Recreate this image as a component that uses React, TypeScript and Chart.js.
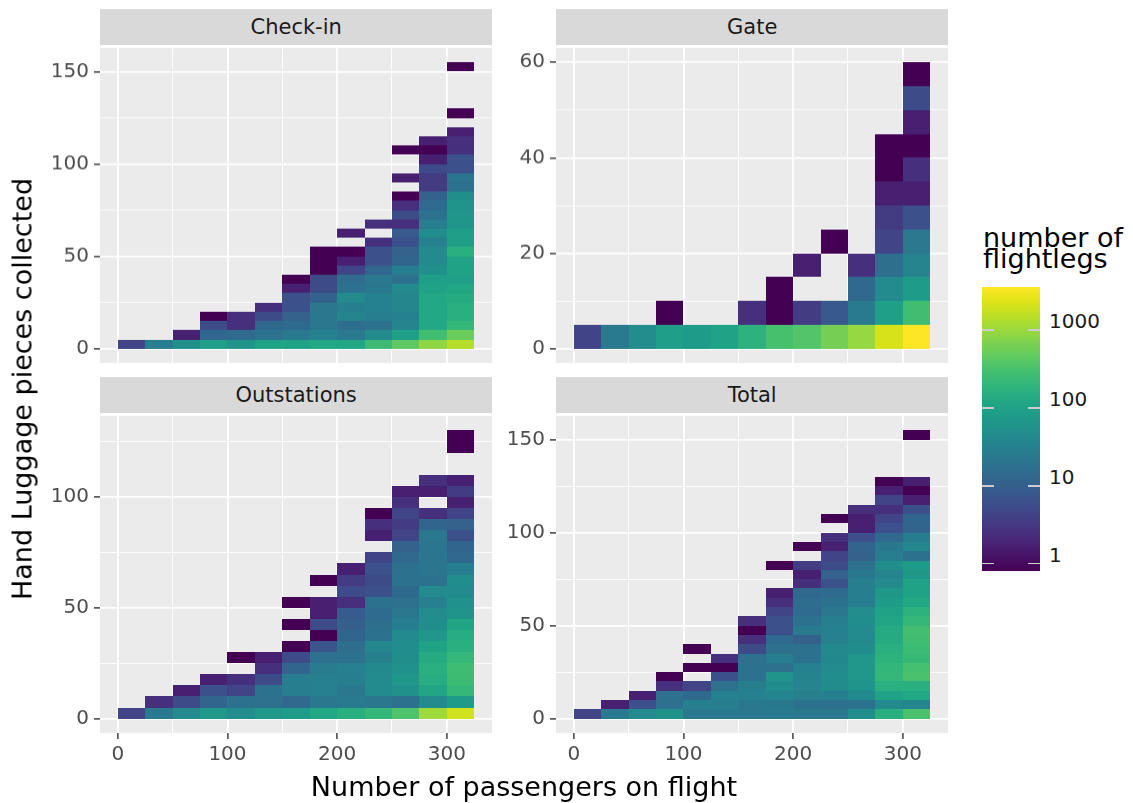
import React, { useEffect, useRef } from "react";
import { Chart, registerables } from "chart.js";
Chart.register(...registerables);

const FONT = "'DejaVu Sans', 'Liberation Sans', sans-serif";

// ---------------- DATA ----------------
// 2D bins: x = passengers (bin width 25), y = pieces (bin width 5)
const X_BIN = 25;
const Y_BIN = 5;
const xMajorTicks = [0, 100, 200, 300];
const xMinorTicks = [50, 150, 250];
const legendBreaks = [1, 10, 100, 1000];
const panelTitles = ["Check-in", "Gate", "Outstations", "Total"];

// each row = one y bin (0-5, 5-10, ... upward), each entry = x bin (0-25 ... 300-325)
const checkinCounts = [
  [5, 29, 52, 85, 60, 100, 98, 120, 118, 235, 400, 760, 1200],
  [0, 0, 2, 14, 16, 20, 26, 33, 26, 43, 85, 250, 470],
  [0, 0, 0, 6, 3, 15, 15, 24, 17, 19, 36, 120, 200],
  [0, 0, 0, 1, 3, 6, 12, 24, 36, 30, 33, 120, 150],
  [0, 0, 0, 0, 0, 3, 7, 24, 31, 33, 38, 120, 150],
  [0, 0, 0, 0, 0, 0, 7, 12, 43, 33, 38, 120, 130],
  [0, 0, 0, 0, 0, 0, 2, 6, 20, 24, 43, 100, 115],
  [0, 0, 0, 0, 0, 0, 1, 6, 17, 25, 20, 90, 85],
  [0, 0, 0, 0, 0, 0, 0, 1, 5, 14, 30, 52, 100],
  [0, 0, 0, 0, 0, 0, 0, 1, 2, 7, 13, 45, 100],
  [0, 0, 0, 0, 0, 0, 0, 1, 1, 7, 12, 45, 150],
  [0, 0, 0, 0, 0, 0, 0, 0, 0, 3, 7, 32, 85],
  [0, 0, 0, 0, 0, 0, 0, 0, 2, 0, 9, 48, 85],
  [0, 0, 0, 0, 0, 0, 0, 0, 0, 3, 3, 30, 65],
  [0, 0, 0, 0, 0, 0, 0, 0, 0, 0, 6, 20, 65],
  [0, 0, 0, 0, 0, 0, 0, 0, 0, 0, 3, 16, 60],
  [0, 0, 0, 0, 0, 0, 0, 0, 0, 0, 1, 12, 50],
  [0, 0, 0, 0, 0, 0, 0, 0, 0, 0, 0, 4, 19],
  [0, 0, 0, 0, 0, 0, 0, 0, 0, 0, 2, 4, 22],
  [0, 0, 0, 0, 0, 0, 0, 0, 0, 0, 0, 6, 7],
  [0, 0, 0, 0, 0, 0, 0, 0, 0, 0, 0, 2, 7],
  [0, 0, 0, 0, 0, 0, 0, 0, 0, 0, 1, 1, 3],
  [0, 0, 0, 0, 0, 0, 0, 0, 0, 0, 0, 2, 3],
  [0, 0, 0, 0, 0, 0, 0, 0, 0, 0, 0, 0, 2],
  [0, 0, 0, 0, 0, 0, 0, 0, 0, 0, 0, 0, 0],
  [0, 0, 0, 0, 0, 0, 0, 0, 0, 0, 0, 0, 1],
  [0, 0, 0, 0, 0, 0, 0, 0, 0, 0, 0, 0, 0],
  [0, 0, 0, 0, 0, 0, 0, 0, 0, 0, 0, 0, 0],
  [0, 0, 0, 0, 0, 0, 0, 0, 0, 0, 0, 0, 0],
  [0, 0, 0, 0, 0, 0, 0, 0, 0, 0, 0, 0, 0],
  [0, 0, 0, 0, 0, 0, 0, 0, 0, 0, 0, 0, 1],
];

const gateCounts = [
  [5, 26, 46, 85, 80, 100, 170, 280, 330, 550, 820, 1800, 2925],
  [0, 0, 0, 1, 0, 0, 3, 1, 4, 9, 26, 90, 250],
  [0, 0, 0, 0, 0, 0, 0, 1, 0, 0, 15, 43, 80],
  [0, 0, 0, 0, 0, 0, 0, 0, 2, 0, 3, 18, 36],
  [0, 0, 0, 0, 0, 0, 0, 0, 0, 1, 0, 5, 25],
  [0, 0, 0, 0, 0, 0, 0, 0, 0, 0, 0, 4, 7],
  [0, 0, 0, 0, 0, 0, 0, 0, 0, 0, 0, 2, 2],
  [0, 0, 0, 0, 0, 0, 0, 0, 0, 0, 0, 1, 3],
  [0, 0, 0, 0, 0, 0, 0, 0, 0, 0, 0, 1, 1],
  [0, 0, 0, 0, 0, 0, 0, 0, 0, 0, 0, 0, 2],
  [0, 0, 0, 0, 0, 0, 0, 0, 0, 0, 0, 0, 6],
  [0, 0, 0, 0, 0, 0, 0, 0, 0, 0, 0, 0, 1],
];

const outstationsCounts = [
  [5, 26, 43, 70, 46, 70, 80, 115, 150, 200, 310, 920, 1650],
  [0, 3, 6, 13, 20, 19, 15, 24, 26, 24, 20, 43, 80],
  [0, 0, 2, 7, 5, 20, 30, 32, 24, 43, 55, 110, 200],
  [0, 0, 0, 2, 3, 6, 30, 32, 31, 43, 70, 140, 230],
  [0, 0, 0, 0, 0, 3, 13, 27, 32, 42, 55, 150, 240],
  [0, 0, 0, 0, 1, 2, 6, 19, 20, 31, 50, 130, 200],
  [0, 0, 0, 0, 0, 0, 1, 8, 18, 40, 48, 100, 150],
  [0, 0, 0, 0, 0, 0, 0, 1, 13, 20, 44, 70, 140],
  [0, 0, 0, 0, 0, 0, 1, 6, 11, 18, 30, 48, 110],
  [0, 0, 0, 0, 0, 0, 0, 2, 10, 16, 24, 46, 60],
  [0, 0, 0, 0, 0, 0, 1, 2, 3, 20, 19, 32, 54],
  [0, 0, 0, 0, 0, 0, 0, 0, 6, 7, 15, 43, 45],
  [0, 0, 0, 0, 0, 0, 0, 1, 4, 6, 20, 20, 48],
  [0, 0, 0, 0, 0, 0, 0, 0, 2, 7, 20, 22, 30],
  [0, 0, 0, 0, 0, 0, 0, 0, 0, 5, 15, 23, 15],
  [0, 0, 0, 0, 0, 0, 0, 0, 0, 0, 12, 23, 13],
  [0, 0, 0, 0, 0, 0, 0, 0, 0, 2, 5, 24, 7],
  [0, 0, 0, 0, 0, 0, 0, 0, 0, 3, 4, 13, 12],
  [0, 0, 0, 0, 0, 0, 0, 0, 0, 1, 5, 3, 5],
  [0, 0, 0, 0, 0, 0, 0, 0, 0, 0, 3, 0, 2],
  [0, 0, 0, 0, 0, 0, 0, 0, 0, 0, 2, 2, 4],
  [0, 0, 0, 0, 0, 0, 0, 0, 0, 0, 0, 3, 2],
  [0, 0, 0, 0, 0, 0, 0, 0, 0, 0, 0, 0, 0],
  [0, 0, 0, 0, 0, 0, 0, 0, 0, 0, 0, 0, 0],
  [0, 0, 0, 0, 0, 0, 0, 0, 0, 0, 0, 0, 1],
  [0, 0, 0, 0, 0, 0, 0, 0, 0, 0, 0, 0, 1],
];

const totalCounts = [
  [5, 26, 43, 54, 24, 24, 24, 26, 24, 24, 50, 150, 290],
  [0, 2, 7, 20, 32, 31, 24, 24, 20, 19, 20, 43, 40],
  [0, 0, 2, 19, 15, 33, 32, 36, 31, 30, 44, 100, 120],
  [0, 0, 0, 3, 5, 20, 31, 48, 36, 47, 60, 150, 150],
  [0, 0, 0, 1, 0, 7, 20, 60, 35, 48, 70, 200, 290],
  [0, 0, 0, 0, 1, 1, 20, 19, 33, 44, 70, 190, 270],
  [0, 0, 0, 0, 0, 3, 19, 30, 20, 40, 70, 170, 210],
  [0, 0, 0, 0, 1, 0, 6, 19, 20, 42, 48, 150, 230],
  [0, 0, 0, 0, 0, 0, 3, 16, 12, 32, 44, 130, 250],
  [0, 0, 0, 0, 0, 0, 1, 7, 26, 33, 44, 130, 260],
  [0, 0, 0, 0, 0, 0, 3, 7, 20, 31, 48, 110, 200],
  [0, 0, 0, 0, 0, 0, 0, 5, 16, 24, 46, 100, 170],
  [0, 0, 0, 0, 0, 0, 0, 3, 17, 20, 30, 80, 120],
  [0, 0, 0, 0, 0, 0, 0, 2, 15, 16, 31, 70, 100],
  [0, 0, 0, 0, 0, 0, 0, 0, 3, 7, 31, 43, 100],
  [0, 0, 0, 0, 0, 0, 0, 0, 2, 12, 24, 36, 70],
  [0, 0, 0, 0, 0, 0, 0, 1, 4, 6, 20, 50, 80],
  [0, 0, 0, 0, 0, 0, 0, 0, 0, 5, 12, 30, 20],
  [0, 0, 0, 0, 0, 0, 0, 0, 1, 2, 13, 24, 40],
  [0, 0, 0, 0, 0, 0, 0, 0, 0, 3, 7, 15, 30],
  [0, 0, 0, 0, 0, 0, 0, 0, 0, 0, 2, 7, 13],
  [0, 0, 0, 0, 0, 0, 0, 0, 0, 1, 2, 5, 13],
  [0, 0, 0, 0, 0, 0, 0, 0, 0, 0, 3, 3, 7],
  [0, 0, 0, 0, 0, 0, 0, 0, 0, 0, 0, 5, 2],
  [0, 0, 0, 0, 0, 0, 0, 0, 0, 0, 0, 2, 1],
  [0, 0, 0, 0, 0, 0, 0, 0, 0, 0, 0, 1, 2],
  [0, 0, 0, 0, 0, 0, 0, 0, 0, 0, 0, 0, 0],
  [0, 0, 0, 0, 0, 0, 0, 0, 0, 0, 0, 0, 0],
  [0, 0, 0, 0, 0, 0, 0, 0, 0, 0, 0, 0, 0],
  [0, 0, 0, 0, 0, 0, 0, 0, 0, 0, 0, 0, 0],
  [0, 0, 0, 0, 0, 0, 0, 0, 0, 0, 0, 0, 1],
];

const checkinYMajor = [0, 50, 100, 150];
const checkinYMinor = [25, 75, 125];
const gateYMajor = [0, 20, 40, 60];
const gateYMinor = [10, 30, 50];
const outstationsYMajor = [0, 50, 100];
const outstationsYMinor = [25, 75, 125];
const totalYMajor = [0, 50, 100, 150];
const totalYMinor = [25, 75, 125];

// ---------------- COLOR ----------------
const VIRIDIS = [
  "#440154", "#471365", "#482475", "#463480", "#414487", "#3b528b", "#355f8d",
  "#2f6c8e", "#2a788e", "#25848e", "#21918c", "#1e9c89", "#22a884", "#2fb47c",
  "#44bf70", "#5ec962", "#7ad151", "#9bd93c", "#bddf26", "#dfe318", "#fde725",
];
function hexRgb(h: string) {
  return [parseInt(h.slice(1, 3), 16), parseInt(h.slice(3, 5), 16), parseInt(h.slice(5, 7), 16)];
}
function viridis(t: number) {
  const tt = Math.max(0, Math.min(1, t));
  const p = tt * (VIRIDIS.length - 1);
  const i = Math.min(Math.floor(p), VIRIDIS.length - 2);
  const f = p - i;
  const a = hexRgb(VIRIDIS[i]);
  const b = hexRgb(VIRIDIS[i + 1]);
  const c = a.map((v, k) => Math.round(v + (b[k] - v) * f));
  return `rgb(${c[0]},${c[1]},${c[2]})`;
}

const allCounts = [checkinCounts, gateCounts, outstationsCounts, totalCounts];
const maxCount = Math.max(...allCounts.map((p) => Math.max(...p.map((r) => Math.max(...r)))));
const LOG_MAX = Math.log10(maxCount);

// ---------------- LAYOUT ----------------
const PANEL_W = 392.3;
const PANEL_H = 320.3;
const STRIP_H = 36;
const Y_AXIS_W = 100;
const PAD_T = 14;
const PAD_R = 10;
const X_AXIS_H = 60;
const TICK_FONT = 20;

type Panel = {
  title: string;
  counts: number[][];
  yMajor: number[];
  yMinor: number[];
  left: number;
  top: number;
  bottom: boolean;
};

const panels: Panel[] = [
  { title: panelTitles[0], counts: checkinCounts, yMajor: checkinYMajor, yMinor: checkinYMinor, left: 100, top: 45.4, bottom: false },
  { title: panelTitles[1], counts: gateCounts, yMajor: gateYMajor, yMinor: gateYMinor, left: 556, top: 45.4, bottom: false },
  { title: panelTitles[2], counts: outstationsCounts, yMajor: outstationsYMajor, yMinor: outstationsYMinor, left: 100, top: 412.7, bottom: true },
  { title: panelTitles[3], counts: totalCounts, yMajor: totalYMajor, yMinor: totalYMinor, left: 556, top: 412.7, bottom: true },
];

function makeHeatPlugin(counts: number[][]) {
  return {
    id: "heat",
    beforeDraw(chart: any) {
      const { ctx, chartArea: a } = chart;
      ctx.save();
      ctx.fillStyle = "#EBEBEB";
      ctx.fillRect(a.left, a.top, a.right - a.left, a.bottom - a.top);
      ctx.restore();
    },
    afterDatasetsDraw(chart: any) {
      const { ctx, chartArea: a, scales } = chart;
      ctx.save();
      ctx.beginPath();
      ctx.rect(a.left, a.top, a.right - a.left, a.bottom - a.top);
      ctx.clip();
      counts.forEach((row, r) => {
        row.forEach((n, c) => {
          if (!n) return;
          const x0 = Math.round(scales.x.getPixelForValue(c * X_BIN));
          const x1 = Math.round(scales.x.getPixelForValue((c + 1) * X_BIN));
          const y0 = Math.round(scales.y.getPixelForValue(r * Y_BIN));
          const y1 = Math.round(scales.y.getPixelForValue((r + 1) * Y_BIN));
          ctx.fillStyle = viridis(Math.log10(n) / LOG_MAX);
          ctx.fillRect(x0, y1, x1 - x0, y0 - y1);
        });
      });
      ctx.restore();
    },
  };
}

function PanelChart({ p }: { p: Panel }) {
  const ref = useRef<HTMLCanvasElement | null>(null);
  const cw = Y_AXIS_W + PANEL_W + PAD_R;
  const ch = PAD_T + PANEL_H + (p.bottom ? X_AXIS_H : PAD_T);
  useEffect(() => {
    if (!ref.current) return;
    const nx = p.counts[0].length;
    const ny = p.counts.length;
    const xSpan = nx * X_BIN;
    const ySpan = ny * Y_BIN;
    const xTicks = [...xMajorTicks, ...xMinorTicks].sort((a, b) => a - b);
    const yTicks = [...p.yMajor, ...p.yMinor].sort((a, b) => a - b);
    const chart = new Chart(ref.current, {
      type: "scatter",
      data: { datasets: [] },
      plugins: [makeHeatPlugin(p.counts)],
      options: {
        responsive: false,
        animation: false,
        devicePixelRatio: 1,
        layout: { padding: { left: 0, top: PAD_T, right: PAD_R, bottom: p.bottom ? 0 : PAD_T } },
        plugins: { legend: { display: false }, tooltip: { enabled: false }, title: { display: false } },
        scales: {
          x: {
            type: "linear",
            min: -0.05 * xSpan,
            max: 1.05 * xSpan,
            afterBuildTicks: (s: any) => {
              s.ticks = xTicks.map((v) => ({ value: v }));
            },
            afterFit: (s: any) => {
              s.height = p.bottom ? X_AXIS_H : 0;
            },
            border: { display: false },
            grid: {
              color: "#FFFFFF",
              lineWidth: (c: any) => (xMajorTicks.includes(c.tick?.value) ? 1.8 : 0.9),
              drawTicks: p.bottom,
              tickLength: 6,
              tickWidth: 1.4,
              tickColor: (c: any) => (xMajorTicks.includes(c.tick?.value) ? "#333333" : "rgba(0,0,0,0)"),
            },
            ticks: {
              display: p.bottom,
              autoSkip: false,
              maxRotation: 0,
              padding: 4,
              color: "#4D4D4D",
              font: { family: FONT, size: TICK_FONT },
              callback: (v: any) => (xMajorTicks.includes(v) ? String(v) : ""),
            },
          },
          y: {
            type: "linear",
            min: -0.05 * ySpan,
            max: 1.05 * ySpan,
            afterBuildTicks: (s: any) => {
              s.ticks = yTicks.map((v) => ({ value: v }));
            },
            afterFit: (s: any) => {
              s.width = Y_AXIS_W;
            },
            border: { display: false },
            grid: {
              color: "#FFFFFF",
              lineWidth: (c: any) => (p.yMajor.includes(c.tick?.value) ? 1.8 : 0.9),
              drawTicks: true,
              tickLength: 6,
              tickWidth: 1.4,
              tickColor: (c: any) => (p.yMajor.includes(c.tick?.value) ? "#333333" : "rgba(0,0,0,0)"),
            },
            ticks: {
              autoSkip: false,
              padding: 5,
              color: "#4D4D4D",
              font: { family: FONT, size: TICK_FONT },
              callback: (v: any) => (p.yMajor.includes(v) ? String(v) : ""),
            },
          },
        },
      } as any,
    });
    return () => chart.destroy();
  }, [p]);
  return (
    <>
      <div
        style={{
          position: "absolute",
          left: p.left,
          top: p.top - STRIP_H,
          width: PANEL_W,
          height: STRIP_H,
          background: "#D9D9D9",
          color: "#1A1A1A",
          font: `21px ${FONT}`,
          display: "flex",
          alignItems: "center",
          justifyContent: "center",
        }}
      >
        {p.title}
      </div>
      <canvas
        ref={ref}
        width={cw}
        height={ch}
        style={{ position: "absolute", left: p.left - Y_AXIS_W, top: p.top - PAD_T, width: cw, height: ch }}
      />
    </>
  );
}

function ColorBar() {
  const barLeft = 982.3;
  const barTop = 286.7;
  const barW = 57.7;
  const barH = 284;
  const nbin = 20;
  const stops = VIRIDIS.map((c, i) => `${c} ${(i / (VIRIDIS.length - 1)) * 100}%`).join(", ");
  const posFor = (v: number) =>
    barTop + barH - barH * (0.5 / nbin + ((nbin - 1) / nbin) * (Math.log10(v) / LOG_MAX));
  return (
    <>
      <div style={{ position: "absolute", left: 983, top: 224, font: `27px ${FONT}`, lineHeight: "27px", color: "#000", whiteSpace: "nowrap" }}>
        number of
      </div>
      <div style={{ position: "absolute", left: 983, top: 245, font: `27px ${FONT}`, lineHeight: "27px", color: "#000", whiteSpace: "nowrap" }}>
        flightlegs
      </div>
      <div
        style={{
          position: "absolute",
          left: barLeft,
          top: barTop,
          width: barW,
          height: barH,
          background: `linear-gradient(to top, ${stops})`,
        }}
      />
      {legendBreaks.map((b) => {
        const y = posFor(b);
        return (
          <React.Fragment key={b}>
            <div style={{ position: "absolute", left: barLeft, top: y - 0.75, width: 12, height: 1.5, background: "#CCCCCC" }} />
            <div style={{ position: "absolute", left: barLeft + barW - 12, top: y - 0.75, width: 12, height: 1.5, background: "#CCCCCC" }} />
            <div style={{ position: "absolute", left: 1049, top: y - 19, font: `20px ${FONT}`, lineHeight: "20px", color: "#1A1A1A" }}>
              {b}
            </div>
          </React.Fragment>
        );
      })}
    </>
  );
}

export default function App() {
  return (
    <div style={{ position: "absolute", left: 0, top: 0, width: 1133, height: 803, background: "#FFFFFF" }}>
      {panels.map((p) => (
        <PanelChart key={p.title} p={p} />
      ))}
      <div
        style={{
          position: "absolute",
          left: 22,
          top: 389,
          transform: "translate(-50%, -50%) rotate(-90deg)",
          font: `27px ${FONT}`,
          whiteSpace: "nowrap",
          color: "#000",
        }}
      >
        Hand Luggage pieces collected
      </div>
      <div
        style={{
          position: "absolute",
          left: 524,
          top: 773,
          transform: "translateX(-50%)",
          font: `27px ${FONT}`,
          lineHeight: "27px",
          whiteSpace: "nowrap",
          color: "#000",
        }}
      >
        Number of passengers on flight
      </div>
      <ColorBar />
    </div>
  );
}
